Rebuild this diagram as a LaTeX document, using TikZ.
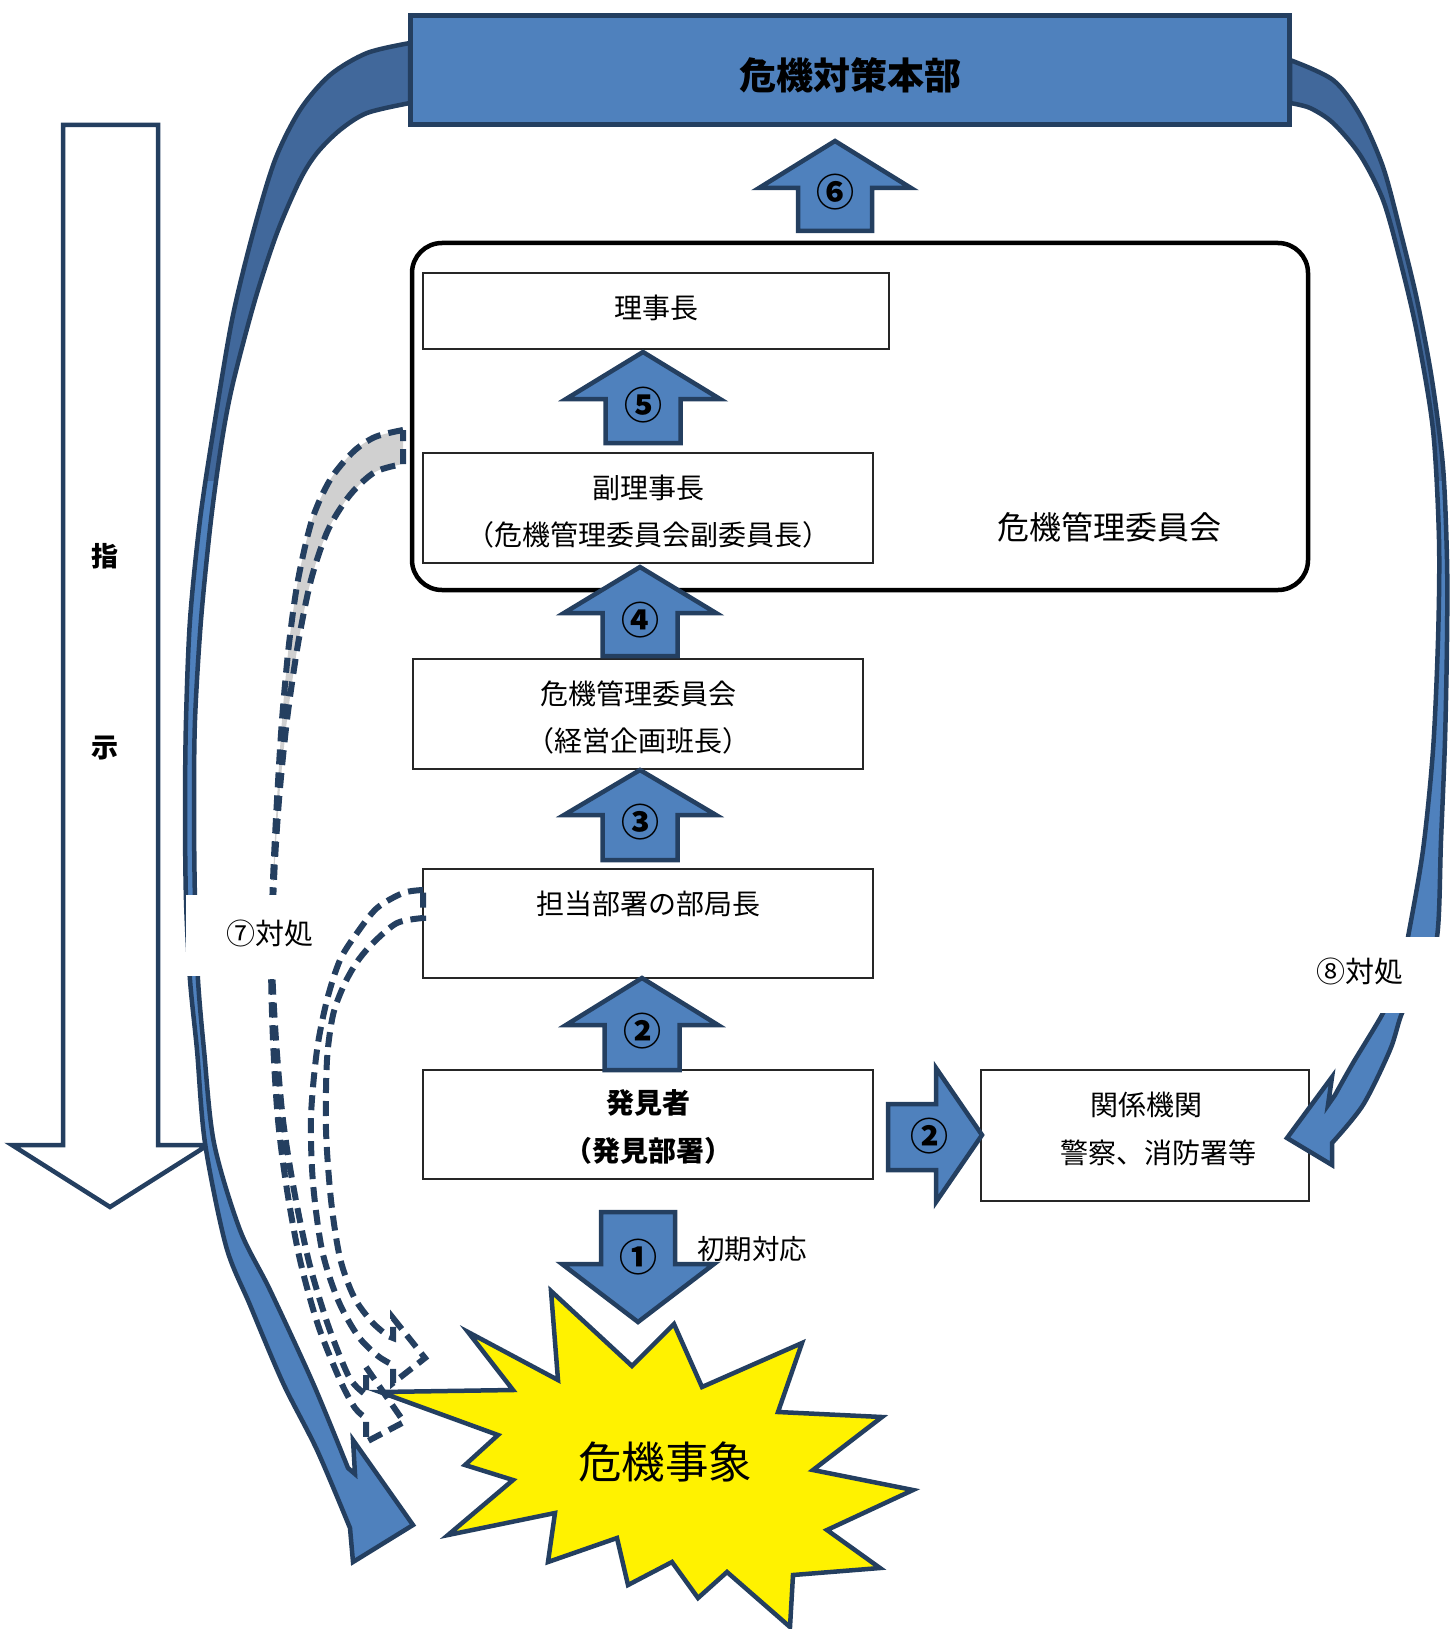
\documentclass[tikz,border=0pt]{standalone}
\usepackage{fontspec}
\setmainfont{Noto Sans CJK JP}
\definecolor{navy}{HTML}{243F60}
\definecolor{ablue}{HTML}{4F81BD}
\definecolor{dblue}{HTML}{41689B}
\definecolor{lgray}{HTML}{D0D0D0}
\newcommand{\fsz}[1]{\fontsize{#1}{#1}\selectfont}
\newcommand{\blkvert}[6]{%
  \draw[blk] (#1-#5,#4) -- (#1-#5,#3) -- (#1-#6,#3) -- (#1,#2) -- (#1+#6,#3) -- (#1+#5,#3) -- (#1+#5,#4) -- cycle;}
\def\lband{plot[smooth,tension=0.5] coordinates {(410,43) (367,53) (330,75) (300,110) (275,160) (253,233) (232,320) (213,433) (200,520) (190,620) (186,720) (185,810) (186,900) (190,980) (197,1050) (205,1143) (226,1246) (250,1305) (283,1383) (317,1450) (350,1528)} -- (353,1562) -- (413,1525) -- (353,1440) -- (355,1474) -- plot[smooth,tension=0.5] coordinates {(348,1468) (313,1383) (270,1290) (240,1230) (214,1143) (204,1050) (198,980) (195,900) (194,810) (195,720) (201,620) (211,520) (222,440) (233,383) (255,300) (277,233) (300,180) (317,153) (340,130) (367,113) (410,103)} -- cycle}
\def\rband{plot[smooth,tension=0.5] coordinates {(1290,60) (1333,80) (1360,115) (1383,167) (1400,230) (1417,300) (1432,380) (1443,467) (1447,560) (1447,640) (1445,740) (1441,840) (1437,937) (1420,980) (1402,1013) (1390,1050) (1363,1105) (1332,1143)} -- (1332,1165) -- (1287,1138) -- (1332,1077) -- (1328,1105) -- plot[smooth,tension=0.5] coordinates {(1335,1095) (1353,1063) (1383,1013) (1400,975) (1408,937) (1423,850) (1433,750) (1438,640) (1439,540) (1433,430) (1417,333) (1400,260) (1383,200) (1360,155) (1333,123) (1310,108) (1290,103)} -- cycle}
\def\bandA{plot[smooth,tension=0.5] coordinates {(403,430) (375,437) (353,452) (330,480) (312,520) (298,580) (289,644) (282,720) (277,800) (273,880) (271,960) (273,1040) (278,1120) (287,1190) (300,1260) (318,1325) (340,1380) (355,1408) (366,1418)} -- (366,1442) -- (404,1422) -- (366,1367) -- (366,1395) -- plot[smooth,tension=0.5] coordinates {(360,1390) (348,1375) (328,1325) (309,1262) (294,1190) (283,1120) (276,1040) (272,960) (274,880) (279,800) (287,720) (298,644) (311,580) (328,530) (350,495) (375,472) (403,464)} -- cycle}
\def\bandB{plot[smooth,tension=0.5] coordinates {(423,890) (403,893) (377,908) (357,933) (340,960) (327,1000) (317,1050) (311,1117) (313,1183) (322,1250) (338,1300) (358,1336) (378,1356) (393,1365)} -- (393,1383) -- (425,1358) -- (393,1318) -- (393,1338) -- plot[smooth,tension=0.5] coordinates {(388,1336) (372,1322) (354,1297) (340,1258) (331,1200) (326,1130) (327,1060) (333,1015) (344,985) (357,962) (373,943) (397,923) (423,918)} -- cycle}
\begin{document}
\begin{tikzpicture}[x=1pt,y=-1pt,
  blk/.style={fill=ablue,draw=navy,line width=4.5pt,line join=miter},
  box/.style={draw=black!85,line width=1.5pt,fill=white,inner sep=0pt},
  txt/.style={inner sep=0pt,font=\fsz{28}},
  num/.style={inner sep=0pt,font=\bfseries\fsz{38}},
  dashband/.style={draw=navy,line width=6pt,dash pattern=on 15pt off 8pt}]
\useasboundingbox (0,0) rectangle (1450,1629);

% instruction arrow
\draw[navy,line width=4.5pt,fill=white,line join=miter] (63,125) -- (158,125) -- (158,1145) -- (208,1145) -- (110,1207) -- (12,1145) -- (63,1145) -- cycle;
\node[txt,font=\bfseries\fsz{27}] (shi) at (105,556) {指};
\node[txt,font=\bfseries\fsz{27}] (ji) at (105,748) {示};

% headquarters
\node[draw=navy,fill=ablue,line width=4.5pt,minimum width=879,minimum height=109,inner sep=0pt] (hq) at (850,70) {};
\node[txt,font=\bfseries\fsz{37}] (hqt) at (850,75) {危機対策本部};

% committee frame
\node[draw=black,line width=4.5pt,rounded corners=30pt,minimum width=896,minimum height=347,inner sep=0pt] (comm) at (860,416.5) {};
\node[txt,font=\fsz{32}] (commt) at (1109,527) {危機管理委員会};

% boxes
\node[box,minimum width=466,minimum height=76] (rij) at (656,311) {};
\node[txt] (rijt) at (656,308) {理事長};
\node[box,minimum width=450,minimum height=110] (fuku) at (648,508) {};
\node[txt] (fuku1) at (648,488) {副理事長};
\node[txt] (fuku2) at (648,535) {（危機管理委員会副委員長）};
\node[box,minimum width=450,minimum height=110] (kiki) at (638,714) {};
\node[txt] (kiki1) at (638,694) {危機管理委員会};
\node[txt] (kiki2) at (638,741) {（経営企画班長）};
\node[box,minimum width=450,minimum height=109] (tanto) at (648,923.5) {};
\node[txt] (tanto1) at (648,904) {担当部署の部局長};
\node[box,minimum width=450,minimum height=109] (hakken) at (648,1124.5) {};
\node[txt,font=\bfseries\fsz{28}] (hakken1) at (648,1103) {発見者};
\node[txt,font=\bfseries\fsz{28}] (hakken2) at (648,1151) {（発見部署）};
\node[box,minimum width=328,minimum height=131] (kankei) at (1145,1135.5) {};
\node[txt] (kankei1) at (1146,1105) {関係機関};
\node[txt] (kankei2) at (1158,1153) {警察、消防署等};

% big curved arrows
\fill[ablue] \lband;
\begin{scope}\clip (0,0) rectangle (1450,480); \fill[dblue] \lband; \end{scope}
\draw[navy,line width=4.5pt,line join=miter] \lband;
\fill[ablue] \rband;
\begin{scope}\clip (0,0) rectangle (1450,480); \fill[dblue] \rband; \end{scope}
\draw[navy,line width=4.5pt,line join=miter] \rband;

% block arrows
\blkvert{835}{141}{188}{231}{37}{76}
\node[num] (n6) at (835,192) {⑥};
\blkvert{643}{352}{399}{443}{37.5}{77}
\node[num] (n5) at (643,405) {⑤};
\blkvert{640}{567}{613}{656}{37.5}{76}
\node[num] (n4) at (640,620) {④};
\blkvert{640}{770}{815}{860}{37.5}{76}
\node[num] (n3) at (640,822) {③};
\blkvert{642}{978}{1025}{1070}{37.5}{76}
\node[num] (n2) at (642,1031) {②};
\blkvert{638}{1322}{1264}{1212}{37}{76}
\node[num] (n1) at (638,1257) {①};
\draw[blk] (888,1104) -- (936,1104) -- (936,1068) -- (982,1135) -- (936,1202) -- (936,1170) -- (888,1170) -- cycle;
\node[num] (n2b) at (929,1136) {②};
\node[txt,font=\fsz{27.5}] (shoki) at (752,1249) {初期対応};

% dashed curved arrows
\begin{scope}\clip (0,0) rectangle (1450,880); \fill[lgray] \bandA; \end{scope}
\draw[dashband] \bandA;
\draw[dashband] \bandB;

% labels on white
\fill[white] (186,895) rectangle (322,976);
\node[txt,font=\fsz{29}] (l7) at (270,933) {⑦対処};
\fill[white] (1305,937) rectangle (1450,1013);
\node[txt,font=\fsz{29}] (l8) at (1360,971) {⑧対処};

% star
\draw[fill=yellow,draw=navy,line width=4.5pt,line join=miter] (551,1291) -- (558,1380) -- (468,1332) -- (513,1390) -- (380,1392) -- (498,1435) -- (465,1465) -- (513,1480) -- (448,1535) -- (555,1513) -- (548,1562) -- (617,1538) -- (628,1585) -- (672,1562) -- (698,1598) -- (727,1572) -- (790,1627) -- (793,1575) -- (880,1568) -- (827,1530) -- (913,1490) -- (813,1470) -- (882,1417) -- (778,1412) -- (802,1343) -- (702,1387) -- (674,1324) -- (632,1366) -- cycle;
\node[txt,font=\fsz{43.5}] (event) at (665,1462) {危機事象};
\end{tikzpicture}
\end{document}
